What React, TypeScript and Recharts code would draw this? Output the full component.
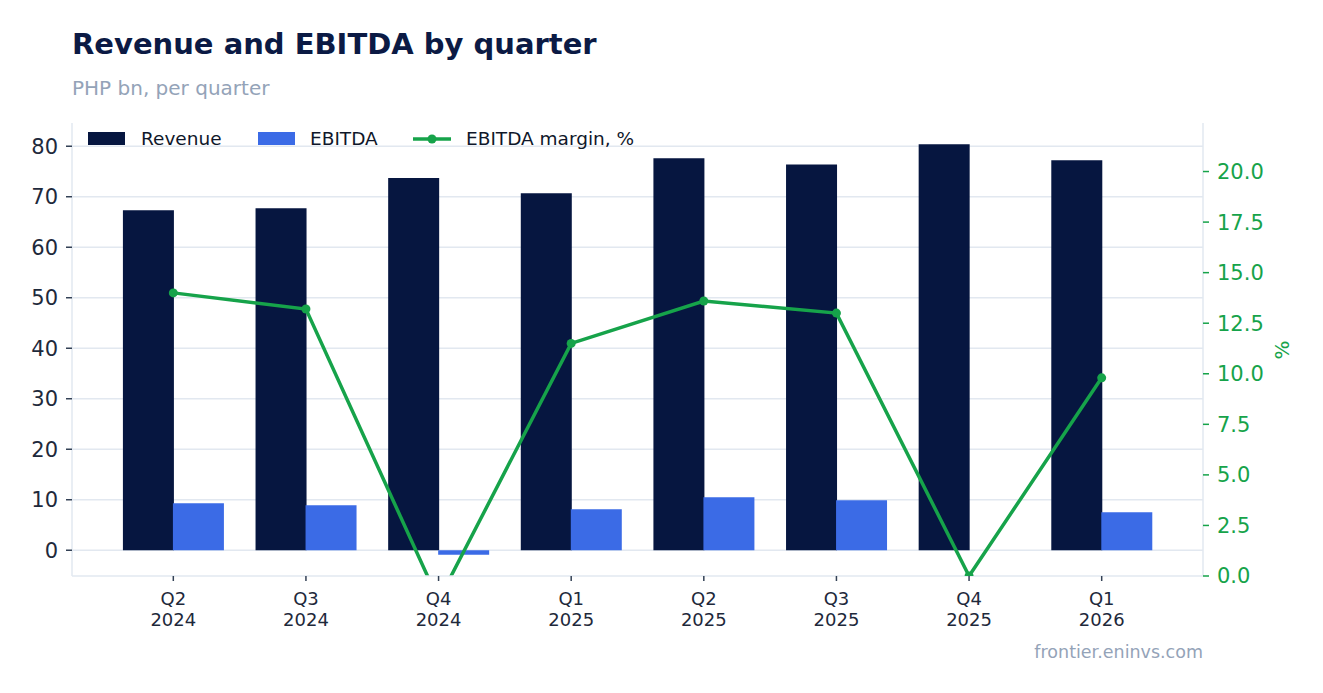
import React from 'react';
import { ComposedChart, Bar, Line, XAxis, YAxis, CartesianGrid } from 'recharts';

const FONT = '"DejaVu Sans", sans-serif';
const NAVY = '#061640';
const BLUE = '#3b6be6';
const GREEN = '#16a34a';
const GRID = '#e2e8f0';

const quarters = ['Q2 2024', 'Q3 2024', 'Q4 2024', 'Q1 2025', 'Q2 2025', 'Q3 2025', 'Q4 2025', 'Q1 2026'];
const revenue = [67.3, 67.7, 73.7, 70.7, 77.6, 76.4, 80.4, 77.2];
const ebitda = [9.3, 8.9, -0.9, 8.1, 10.5, 9.9, 0, 7.5];
const margin = [14.0, 13.2, -1.2, 11.5, 13.6, 13.0, 0.0, 9.8];

const leftTicks = [0, 10, 20, 30, 40, 50, 60, 70, 80];
const rightTicks = [0, 2.5, 5, 7.5, 10, 12.5, 15, 17.5, 20];
const LEFT_MIN = -5.1;
const LEFT_MAX = 84.6;

const rows = quarters.map((q, i) => ({
  quarter: q,
  revenue: revenue[i],
  ebitda: ebitda[i],
  margin: margin[i],
}));

// two-line quarter label under each category
const QuarterTick = (props: any) => {
  const { x, y, payload } = props;
  const [q, yr] = String(payload.value).split(' ');
  return (
    <g transform={`translate(${x},${y})`}>
      <text textAnchor="middle" fill="#1e293b" fontFamily={FONT} fontSize={18}>
        <tspan x={0} dy={22}>{q}</tspan>
        <tspan x={0} dy={21}>{yr}</tspan>
      </text>
    </g>
  );
};

const legendText = { position: 'absolute' as const, top: -4, fontFamily: FONT, fontSize: 18.5, color: '#0f172a', whiteSpace: 'nowrap' as const };

const LegendBox = () => (
  <div style={{ position: 'absolute', left: 0, top: 132, width: 700, height: 20 }}>
    <span style={{ position: 'absolute', left: 88, top: 0, width: 37, height: 13, background: NAVY }} />
    <span style={{ ...legendText, left: 141 }}>Revenue</span>
    <span style={{ position: 'absolute', left: 258, top: 0, width: 37, height: 13, background: BLUE }} />
    <span style={{ ...legendText, left: 310 }}>EBITDA</span>
    <svg width={38} height={14} style={{ position: 'absolute', left: 413, top: 0 }}>
      <line x1={0} y1={7} x2={38} y2={7} stroke={GREEN} strokeWidth={3.5} />
      <circle cx={19} cy={7} r={4.5} fill={GREEN} />
    </svg>
    <span style={{ ...legendText, left: 466 }}>EBITDA margin, %</span>
  </div>
);

// grid only at the left-axis ticks, no line on the top edge
const gridRows = ({ offset }: any) =>
  leftTicks.map((v) => offset.top + (offset.height * (LEFT_MAX - v)) / (LEFT_MAX - LEFT_MIN));

export default function App() {
  return (
    <div style={{ position: 'absolute', left: 0, top: 0, width: 1323, height: 693, background: '#fff' }}>
      <div style={{ position: 'absolute', left: 72, top: 27, fontFamily: FONT, fontWeight: 700, fontSize: 29, color: '#0b1a44' }}>
        Revenue and EBITDA by quarter
      </div>
      <div style={{ position: 'absolute', left: 72, top: 76, fontFamily: FONT, fontSize: 20, color: '#94a3b8' }}>
        PHP bn, per quarter
      </div>
      <ComposedChart
        width={1323}
        height={693}
        data={rows}
        margin={{ top: 123, right: 60, bottom: 0, left: 12 }}
        barGap={-1}
        barCategoryGap="12%"
      >
        <CartesianGrid
          vertical={false}
          stroke={GRID}
          strokeWidth={1.5}
          yAxisId="left"
          horizontalCoordinatesGenerator={gridRows}
        />
        <XAxis
          dataKey="quarter"
          interval={0}
          padding={{ left: 35, right: 35 }}
          stroke={GRID}
          strokeWidth={1.5}
          tickLine={{ stroke: '#334155', strokeWidth: 1.5 }}
          tickSize={5}
          tick={<QuarterTick />}
          height={117}
        />
        <YAxis
          yAxisId="left"
          width={60}
          domain={[LEFT_MIN, LEFT_MAX]}
          ticks={leftTicks}
          allowDataOverflow
          stroke={GRID}
          strokeWidth={1.5}
          tickLine={{ stroke: '#334155', strokeWidth: 1.5 }}
          tickSize={6}
          tickMargin={8}
          tick={{ fill: '#1e293b', fontFamily: FONT, fontSize: 21 }}
        />
        <YAxis
          yAxisId="right"
          orientation="right"
          width={60}
          domain={[0, 22.4]}
          ticks={rightTicks}
          allowDataOverflow
          stroke={GRID}
          strokeWidth={1.5}
          tickLine={{ stroke: GREEN, strokeWidth: 1.5 }}
          tickSize={6}
          tickMargin={8}
          tickFormatter={(v: number) => v.toFixed(1)}
          tick={{ fill: GREEN, fontFamily: FONT, fontSize: 21 }}
        />
        <Bar yAxisId="left" dataKey="revenue" name="Revenue" fill={NAVY} isAnimationActive={false} />
        <Bar yAxisId="left" dataKey="ebitda" name="EBITDA" fill={BLUE} isAnimationActive={false} />
        <Line
          yAxisId="right"
          dataKey="margin"
          name="EBITDA margin, %"
          stroke={GREEN}
          strokeWidth={3.5}
          dot={{ r: 4.5, fill: GREEN, stroke: GREEN, strokeWidth: 0 }}
          isAnimationActive={false}
        />
      </ComposedChart>
      <LegendBox />
      <div
        style={{
          position: 'absolute',
          left: 1282,
          top: 350,
          transform: 'translate(-50%, -50%) rotate(-90deg)',
          fontFamily: FONT,
          fontSize: 20,
          color: GREEN,
        }}
      >
        %
      </div>
      <div style={{ position: 'absolute', right: 120, top: 642, fontFamily: FONT, fontSize: 17.5, color: '#94a3b8' }}>
        frontier.eninvs.com
      </div>
    </div>
  );
}
